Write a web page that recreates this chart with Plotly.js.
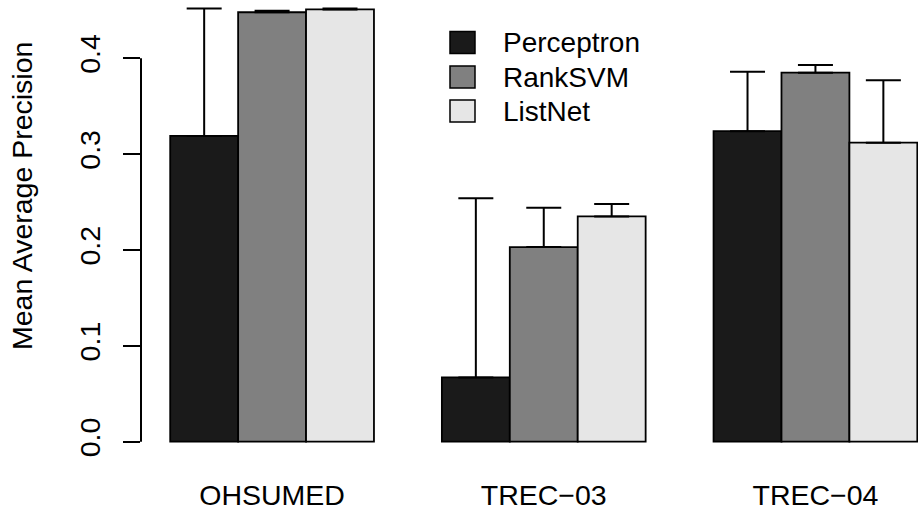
<!DOCTYPE html>
<html>
<head>
<meta charset="utf-8">
<script src="https://cdn.plot.ly/plotly-3.0.1.min.js"></script>
<style>
  html, body { margin: 0; padding: 0; background: #ffffff; }
  #chart { width: 918px; height: 515px; }
</style>
</head>
<body>
<div id="chart"></div>
<script>
// Mean average precision of three ranking methods on three benchmark collections
const datasets = ['OHSUMED', 'TREC\u221203', 'TREC\u221204'];
const methods = ['Perceptron', 'RankSVM', 'ListNet'];

const perceptronMAP = [0.319, 0.067, 0.324];
const rankSvmMAP    = [0.448, 0.203, 0.385];
const listNetMAP    = [0.451, 0.235, 0.312];

// upper error (one-sided, drawn above each bar)
const perceptronErr = [0.133, 0.187, 0.062];
const rankSvmErr    = [0.0015, 0.041, 0.008];
const listNetErr    = [0.001, 0.013, 0.065];

const yTickVals = [0, 0.1, 0.2, 0.3, 0.4];
const yTickText = ['0.0', '0.1', '0.2', '0.3', '0.4'];

const seriesValues = [perceptronMAP, rankSvmMAP, listNetMAP];
const seriesErrors = [perceptronErr, rankSvmErr, listNetErr];
const fills = ['#1a1a1a', '#808080', '#e6e6e6'];

const FONT = 'Liberation Sans, Arial, Helvetica, sans-serif';
const FS = 28.5;
const LEGEND_FS = 28;

// plot area geometry (pixels)
const W = 918, H = 515;
const M = { l: 141, r: 0, t: 0, b: 55 };
const plotW = W - M.l - M.r;
const plotH = H - M.t - M.b;
const px2x = px => (px - M.l) / plotW;
const py2y = py => (M.t + plotH - py) / plotH;

// bars side by side within each group, one empty slot between groups
const groupSize = methods.length + 1;
const barX = s => datasets.map((_, g) => groupSize * g + s + 1.5);
const groupCenters = datasets.map((_, g) => groupSize * g + 1 + methods.length / 2);

const traces = methods.map((name, s) => ({
  type: 'bar',
  name: name,
  x: barX(s),
  y: seriesValues[s],
  width: 1,
  marker: { color: fills[s], line: { color: '#000000', width: 1.8 } },
  error_y: {
    type: 'data',
    symmetric: false,
    array: seriesErrors[s],
    arrayminus: seriesValues[s].map(() => 0),
    color: '#000000',
    thickness: 2,
    width: 17.5
  },
  showlegend: false,
  hoverinfo: 'skip'
}));

// hand-drawn legend in the upper middle
const legendBoxL = 450, legendBoxR = 475, legendTextX = 501;
const legendRowY = [42.5, 77, 111];
const legendHalf = 11;
const shapes = [
  // y axis line spanning the ticks only
  { type: 'line', xref: 'paper', yref: 'y', x0: 0, x1: 0,
    y0: yTickVals[0], y1: yTickVals[yTickVals.length - 1],
    line: { color: '#000000', width: 2 } }
];
const annotations = [
  { text: 'Mean Average Precision', xref: 'paper', yref: 'paper',
    x: px2x(22), y: py2y(196), xanchor: 'center', yanchor: 'middle',
    textangle: -90, showarrow: false, font: { family: FONT, size: FS, color: '#000000' } }
];
methods.forEach((name, s) => {
  shapes.push({
    type: 'rect', xref: 'paper', yref: 'paper',
    x0: px2x(legendBoxL), x1: px2x(legendBoxR),
    y0: py2y(legendRowY[s] + legendHalf), y1: py2y(legendRowY[s] - legendHalf),
    fillcolor: fills[s], line: { color: '#000000', width: 1.5 }
  });
  annotations.push({
    text: name, xref: 'paper', yref: 'paper',
    x: px2x(legendTextX), y: py2y(legendRowY[s]),
    xanchor: 'left', yanchor: 'middle', showarrow: false,
    font: { family: FONT, size: LEGEND_FS, color: '#000000' }
  });
});

const layout = {
  width: W, height: H,
  margin: M,
  paper_bgcolor: '#ffffff',
  plot_bgcolor: '#ffffff',
  barmode: 'overlay',
  font: { family: FONT, size: FS, color: '#000000' },
  xaxis: {
    range: [0.57, 12.01],
    tickvals: groupCenters,
    ticktext: datasets,
    ticks: '',
    showgrid: false, zeroline: false, showline: false,
    tickfont: { family: FONT, size: FS, color: '#000000' },
    ticklabelstandoff: 15,
    fixedrange: true
  },
  yaxis: {
    range: [-0.0191, 0.4608],
    tickvals: yTickVals,
    ticktext: yTickText,
    ticks: 'outside', ticklen: 17, tickwidth: 2, tickcolor: '#000000',
    tickangle: -90,
    showgrid: false, zeroline: false, showline: false,
    tickfont: { family: FONT, size: FS, color: '#000000' },
    ticklabelstandoff: 12,
    fixedrange: true
  },
  shapes: shapes,
  annotations: annotations
};

Plotly.newPlot('chart', traces, layout, { staticPlot: true, displayModeBar: false });
</script>
</body>
</html>
